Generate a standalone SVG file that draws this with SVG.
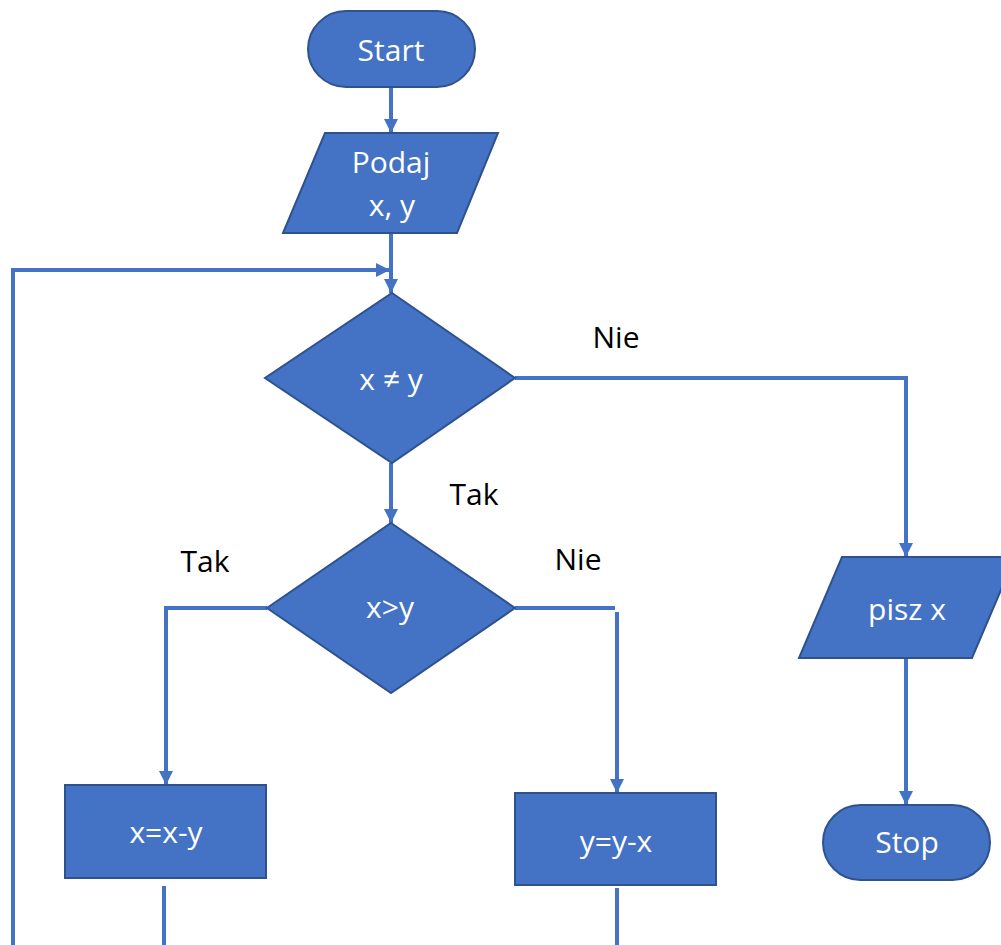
<svg xmlns="http://www.w3.org/2000/svg" width="1001" height="945" viewBox="0 0 1001 945">
<style>
.shape{fill:#4472C4;stroke:#2F528F;stroke-width:2}
.nt{fill:#ffffff;font-family:"Open Sans","Liberation Sans",sans-serif;font-size:30px;text-anchor:middle}
.lb{fill:#000000;font-family:"Open Sans","Liberation Sans",sans-serif;font-size:30px;text-anchor:middle}
.cn{fill:none;stroke:#4472C4;stroke-width:4}
</style>
<defs>
<marker id="ah" markerUnits="userSpaceOnUse" markerWidth="16" markerHeight="16" refX="14" refY="7" orient="auto">
<path d="M0,0 L14,7 L0,14 z" fill="#4472C4"/>
</marker>
</defs>
<rect width="1001" height="945" fill="#ffffff"/>
<g id="connectors">
<path class="cn" d="M391,87 V133" marker-end="url(#ah)"/>
<path class="cn" d="M391,233 V293" marker-end="url(#ah)"/>
<path class="cn" d="M13,945 V270 H390" marker-end="url(#ah)"/>
<path class="cn" d="M515,378 H906 V557" marker-end="url(#ah)"/>
<path class="cn" d="M391,463 V523" marker-end="url(#ah)"/>
<path class="cn" d="M267,608 H166 V785" marker-end="url(#ah)"/>
<path class="cn" d="M515,608 H615"/>
<path class="cn" d="M617,612 V793" marker-end="url(#ah)"/>
<path class="cn" d="M164,886 V945"/>
<path class="cn" d="M617,888 V945"/>
<path class="cn" d="M906,658 V805" marker-end="url(#ah)"/>
</g>
<g id="labels">
<text class="lb" x="616" y="348">Nie</text>
<text class="lb" x="474" y="505">Tak</text>
<text class="lb" x="205" y="572">Tak</text>
<text class="lb" x="578" y="570">Nie</text>
</g>
<g id="start">
<rect class="shape" x="308" y="11" width="167" height="76" rx="38" ry="38"/>
<text class="nt" x="391" y="61">Start</text>
</g>
<g id="input">
<polygon class="shape" points="325,133 498,133 457,233 283,233"/>
<text class="nt" x="391" y="173">Podaj</text>
<text class="nt" x="392" y="216">x, y</text>
</g>
<g id="cond1">
<polygon class="shape" points="392,293 515,378 392,463 265,378"/>
<text class="nt" x="391" y="390">x ≠ y</text>
</g>
<g id="cond2">
<polygon class="shape" points="391,523 515,608 391,693 267,608"/>
<text class="nt" x="390" y="618">x&gt;y</text>
</g>
<g id="xminus">
<rect class="shape" x="65" y="785" width="201" height="93"/>
<text class="nt" x="166" y="843">x=x-y</text>
</g>
<g id="yminus">
<rect class="shape" x="515" y="793" width="201" height="92"/>
<text class="nt" x="616" y="852">y=y-x</text>
</g>
<g id="output">
<polygon class="shape" points="842,557 1015,557 972,658 799,658"/>
<text class="nt" x="907" y="620">pisz x</text>
</g>
<g id="stop">
<rect class="shape" x="823" y="805" width="167" height="75" rx="37.5" ry="37.5"/>
<text class="nt" x="907" y="853">Stop</text>
</g>
</svg>
